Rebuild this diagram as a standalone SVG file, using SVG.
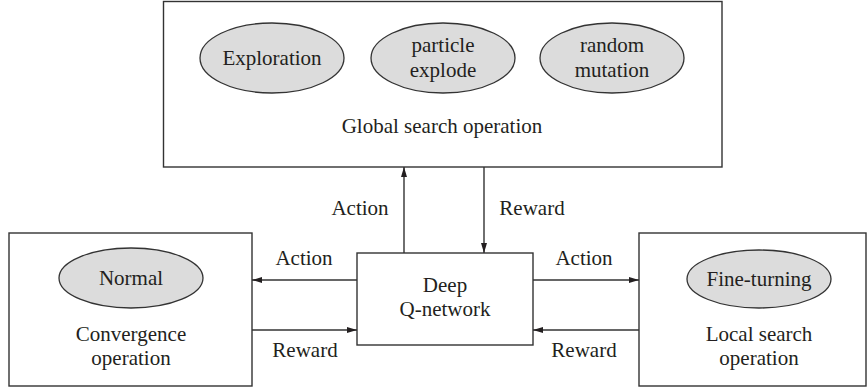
<svg xmlns="http://www.w3.org/2000/svg" width="867" height="387" viewBox="0 0 867 387">
  <style>
    .box { fill: #ffffff; stroke: #333333; stroke-width: 1.4; }
    .oval { fill: #dcdcdc; stroke: #333333; stroke-width: 1.3; }
    .edge { fill: none; stroke: #333333; stroke-width: 1.4; }
    .lbl { font-family: 'Liberation Serif', 'DejaVu Serif', serif; font-size: 21px; fill: #231f20; text-anchor: middle; }
  </style>
  <defs>
    <marker id="arrow" viewBox="0 0 10 6" refX="10" refY="3" markerWidth="10" markerHeight="6" markerUnits="userSpaceOnUse" orient="auto">
      <path d="M0,0 L10,3 L0,6 Z" fill="#231f20"/>
    </marker>
  </defs>
  <rect width="867" height="387" fill="#ffffff"/>

  <!-- Global search operation -->
  <g id="global-search">
    <rect class="box" x="163.5" y="1.5" width="558.5" height="165.5"/>
    <g id="exploration">
      <ellipse class="oval" cx="272" cy="58" rx="72" ry="35"/>
      <text class="lbl" x="272" y="65">Exploration</text>
    </g>
    <g id="particle-explode">
      <ellipse class="oval" cx="443" cy="58" rx="72" ry="35"/>
      <text class="lbl" x="443" y="52">particle</text>
      <text class="lbl" x="443" y="77">explode</text>
    </g>
    <g id="random-mutation">
      <ellipse class="oval" cx="612" cy="58" rx="72" ry="35"/>
      <text class="lbl" x="612" y="52">random</text>
      <text class="lbl" x="612" y="77">mutation</text>
    </g>
    <text class="lbl" x="442" y="133">Global search operation</text>
  </g>

  <!-- Convergence operation -->
  <g id="convergence">
    <rect class="box" x="9" y="233" width="243" height="153"/>
    <g id="normal">
      <ellipse class="oval" cx="131" cy="278" rx="72" ry="30"/>
      <text class="lbl" x="131" y="285">Normal</text>
    </g>
    <text class="lbl" x="131" y="341">Convergence</text>
    <text class="lbl" x="131" y="365">operation</text>
  </g>

  <!-- Deep Q-network -->
  <g id="dqn">
    <rect class="box" x="357" y="253" width="176" height="92"/>
    <text class="lbl" x="445" y="292">Deep</text>
    <text class="lbl" x="445" y="316">Q-network</text>
  </g>

  <!-- Local search operation -->
  <g id="local-search">
    <rect class="box" x="639" y="233" width="227" height="153"/>
    <g id="fine-turning">
      <ellipse class="oval" cx="759" cy="279" rx="72" ry="29"/>
      <text class="lbl" x="759" y="286">Fine-turning</text>
    </g>
    <text class="lbl" x="759" y="341">Local search</text>
    <text class="lbl" x="759" y="365">operation</text>
  </g>

  <!-- Connectors -->
  <g id="connectors">
    <line class="edge" x1="404" y1="253" x2="404" y2="167" marker-end="url(#arrow)"/>
    <line class="edge" x1="484" y1="167" x2="484" y2="253" marker-end="url(#arrow)"/>
    <line class="edge" x1="357" y1="280" x2="252" y2="280" marker-end="url(#arrow)"/>
    <line class="edge" x1="252" y1="330" x2="357" y2="330" marker-end="url(#arrow)"/>
    <line class="edge" x1="533" y1="280" x2="639" y2="280" marker-end="url(#arrow)"/>
    <line class="edge" x1="639" y1="330" x2="533" y2="330" marker-end="url(#arrow)"/>
    <text class="lbl" x="360" y="215">Action</text>
    <text class="lbl" x="532" y="215">Reward</text>
    <text class="lbl" x="304" y="265">Action</text>
    <text class="lbl" x="305" y="357">Reward</text>
    <text class="lbl" x="584" y="265">Action</text>
    <text class="lbl" x="584" y="357">Reward</text>
  </g>
</svg>
